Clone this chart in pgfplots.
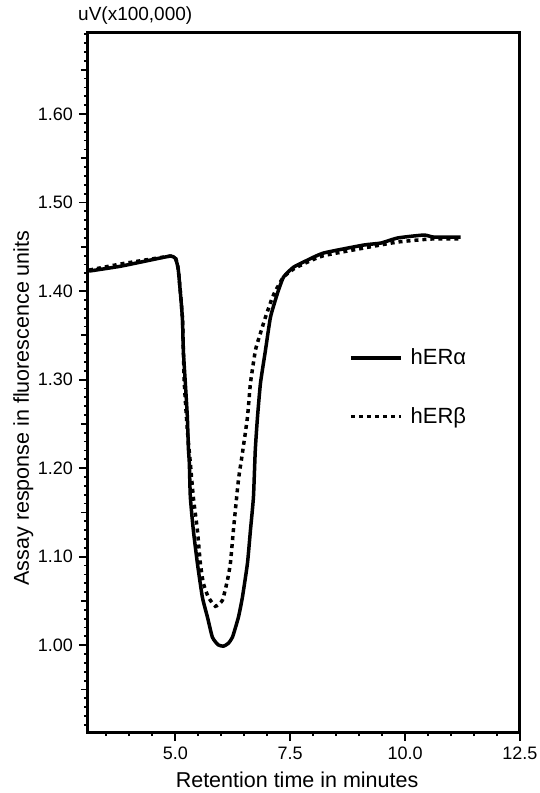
\documentclass[border=0pt]{standalone}
\usepackage{fontspec}
\setmainfont{Liberation Sans}
\usepackage{pgfplots}
\pgfplotsset{compat=1.18}

\begin{document}
\fontsize{18}{21}\selectfont
\begin{tikzpicture}
\begin{axis}[
    scale only axis, width=432pt, height=699pt,
    xmin=3.1, xmax=12.5, ymin=0.902, ymax=1.6915,
    axis line style={line width=3pt},
    tick pos=left, tick align=outside,
    major tick length=9pt, minor tick length=4pt,
    tick style={line width=1.8pt, black},
    xtick={5,7.5,10,12.5}, xticklabels={5.0,7.5,10.0,12.5},
    minor xtick={3.5,4,...,12},
    ytick={1.0,1.1,1.2,1.3,1.4,1.5,1.6},
    yticklabel style={/pgf/number format/.cd, fixed, fixed zerofill, precision=2},
    minor ytick={0.91,0.92,...,1.69},
    extra y ticks={0.95,1.05,1.15,1.25,1.35,1.45,1.55,1.65},
    extra y tick labels={},
    extra y tick style={major tick length=7pt},
    /pgf/number format/assume math mode=true,
    title={uV(x100,000)},
    title style={at={(axis description cs:0,1)}, anchor=base west,
        xshift=-10pt, yshift=6pt, inner sep=0pt, font=\fontsize{19}{22}\selectfont},
    xlabel={Retention time in minutes},
    ylabel={Assay response in fluorescence units},
    xlabel style={at={(axis description cs:0.484,-0.079)}, anchor=base,
        inner sep=0pt, font=\fontsize{21.5}{24}\selectfont},
    ylabel style={at={(axis description cs:-0.150,0.4635)}, anchor=center,
        inner sep=0pt, font=\fontsize{21.5}{24}\selectfont},
    legend style={draw=none, fill=none, at={(0.604,0.493)}, anchor=west,
        row sep=36pt, inner sep=0pt, font=\fontsize{22}{24}\selectfont},
    legend cell align=left,
    legend image code/.code={\draw[#1] (0pt,0pt) -- (50pt,0pt); \path (56pt,0pt);},
]
\coordinate (O) at (rel axis cs:0,0);
\addplot[black, line width=3.5pt, line join=round, smooth, tension=0.3] coordinates {
    (3.125,1.4226) (3.80,1.428) (4.455,1.435) (4.89,1.4395) (5.00,1.437)
    (5.065,1.424) (5.153,1.3706) (5.174,1.3333) (5.218,1.296) (5.262,1.2576)
    (5.283,1.2237) (5.305,1.2056) (5.327,1.1672) (5.392,1.130) (5.48,1.0927)
    (5.589,1.0542) (5.70,1.0316) (5.807,1.009) (5.93,1.0005) (6.046,0.9989)
    (6.15,1.002) (6.243,1.009) (6.373,1.0316) (6.46,1.0542) (6.57,1.0927)
    (6.635,1.130) (6.70,1.1672) (6.74,1.2203) (6.788,1.2576) (6.853,1.296)
    (6.962,1.3333) (7.071,1.3706) (7.224,1.3977) (7.354,1.4158) (7.572,1.427)
    (7.878,1.435) (8.227,1.443) (9.10,1.452) (9.47,1.4542) (9.84,1.46)
    (10.41,1.4633) (10.62,1.461) (11.21,1.461)
};
\addlegendentry{hERα}
\addplot[black, line width=3.5pt, dash pattern=on 4pt off 4pt, smooth, tension=0.3] coordinates {
    (3.125,1.4237) (3.80,1.4305) (4.455,1.436) (4.89,1.4395) (5.00,1.438)
    (5.065,1.424) (5.153,1.3706) (5.196,1.296) (5.262,1.243) (5.327,1.2056)
    (5.392,1.1672) (5.48,1.130) (5.545,1.0927) (5.61,1.070) (5.72,1.0542)
    (5.872,1.044) (6.025,1.0508) (6.134,1.0734) (6.199,1.0927) (6.264,1.130)
    (6.373,1.1864) (6.46,1.217) (6.57,1.2576) (6.635,1.296) (6.744,1.3333)
    (6.853,1.3525) (6.962,1.3706) (7.115,1.3932) (7.224,1.4045) (7.354,1.4158)
    (7.572,1.4249) (7.878,1.4328) (8.227,1.440) (9.10,1.4486) (9.84,1.4554)
    (10.56,1.4588) (11.21,1.4588)
};
\addlegendentry{hERβ}
\end{axis}
\pgfresetboundingbox
\path[use as bounding box] ([shift={(-88pt,-61pt)}]O) rectangle ++(539pt,793pt);
\end{tikzpicture}
\end{document}
